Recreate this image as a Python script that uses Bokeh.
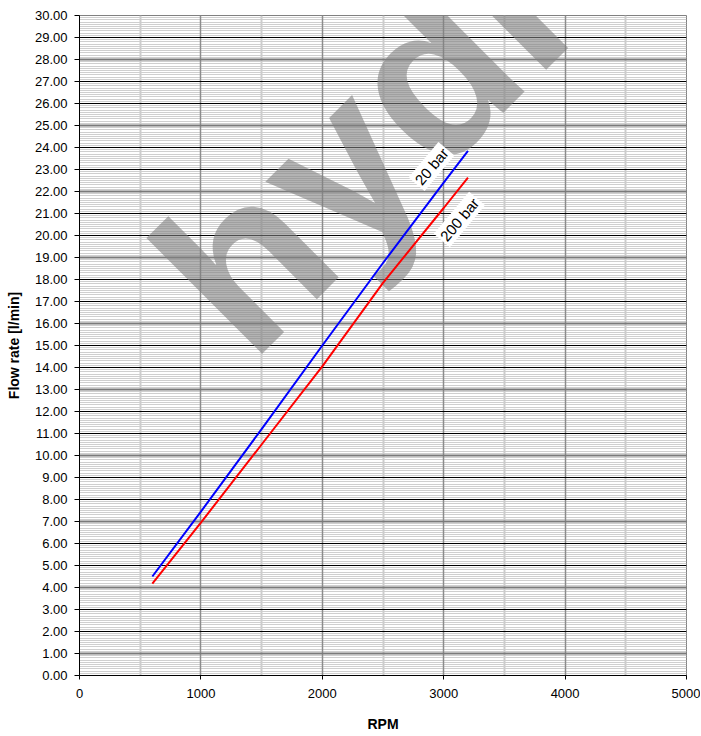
import numpy as np
from bokeh.plotting import figure
from bokeh.models import Grid, FixedTicker, Label, NumeralTickFormatter, Range1d
from bokeh.embed import file_html
from bokeh.resources import INLINE

# ---- data ----
rpm = [600, 1000, 1500, 2000, 2500, 3000, 3200]
flow_20bar = [4.50, 7.45, 11.20, 15.00, 18.75, 22.40, 23.85]
flow_200bar = [4.18, 6.95, 10.50, 14.05, 17.85, 21.25, 22.63]
series_names = ["20 bar", "200 bar"]
x_ticks = [0, 1000, 2000, 3000, 4000, 5000]
y_ticks = list(range(0, 31))
watermark = "hydraulic"

FONT = "Liberation Sans"

p = figure(width=700, height=734, output_backend="svg", toolbar_location=None,
           x_range=Range1d(0, 5000), y_range=Range1d(0, 30),
           min_border_left=79, min_border_right=14, min_border_top=15, min_border_bottom=58)
p.background_fill_color = "white"
p.border_fill_color = "white"
p.outline_line_color = "#808080"
p.outline_line_width = 1

# axes
p.xaxis.ticker = FixedTicker(ticks=x_ticks)
p.yaxis.ticker = FixedTicker(ticks=y_ticks)
p.yaxis.formatter = NumeralTickFormatter(format="0.00")
for ax in (p.xaxis[0], p.yaxis[0]):
    ax.axis_line_color = "black"
    ax.axis_line_width = 1
    ax.major_tick_line_color = "black"
    ax.major_tick_in = 0
    ax.minor_tick_line_color = None
    ax.major_label_text_font = FONT
    ax.major_label_text_font_size = "13px"
    ax.major_label_text_color = "black"
    ax.axis_label_text_font = FONT
    ax.axis_label_text_font_size = "14px"
    ax.axis_label_text_font_style = "bold"
    ax.axis_label_text_color = "black"
p.xaxis.major_tick_out = 4
p.yaxis.major_tick_out = 5
p.xaxis.major_label_standoff = 9
p.yaxis.major_label_standoff = 7
p.xaxis.axis_label = "RPM"
p.yaxis.axis_label = "Flow rate [l/min]"
p.xaxis.axis_label_standoff = 15
p.yaxis.axis_label_standoff = 10

# grids
p.xgrid.visible = False
p.ygrid.visible = False
minor_y = [round(v, 1) for v in np.arange(0.1, 30.0, 0.1) if abs(v - round(v)) > 1e-6]
p.add_layout(Grid(dimension=1, ticker=FixedTicker(ticks=minor_y),
                  grid_line_color="#cfcfcf", grid_line_width=1))
x_half = [500, 1500, 2500, 3500, 4500]
p.add_layout(Grid(dimension=0, ticker=FixedTicker(ticks=x_half),
                  grid_line_color="#cccccc", grid_line_width=2))
p.add_layout(Grid(dimension=0, ticker=FixedTicker(ticks=x_ticks[1:-1]),
                  grid_line_color="#8c8c8c", grid_line_width=1.5))
y_black = [t for t in y_ticks[1:-1] if t % 3 != 1]
y_gray = [t for t in y_ticks[1:-1] if t % 3 == 1]
p.add_layout(Grid(dimension=1, ticker=FixedTicker(ticks=y_black),
                  grid_line_color="black", grid_line_width=1))
p.add_layout(Grid(dimension=1, ticker=FixedTicker(ticks=y_gray),
                  grid_line_color="#7a7a7a", grid_line_width=2))

# watermark
p.add_layout(Label(x=116, y=366, x_units="screen", y_units="screen", text=watermark,
                   angle=45, angle_units="deg", text_font=FONT, text_font_size="226px",
                   text_font_style="bold", text_color="#808080", text_alpha=0.6,
                   text_align="left", text_baseline="alphabetic", level="underlay"))

# lines
p.line(rpm, flow_20bar, line_color="#0000ff", line_width=2)
p.line(rpm, flow_200bar, line_color="#ff0000", line_width=2)

# series labels
for name, (sx, sy) in zip(series_names, [(352, 509), (380, 456)]):
    p.add_layout(Label(x=sx, y=sy, x_units="screen", y_units="screen", text=name,
                       angle=50, angle_units="deg", text_font=FONT, text_font_size="15px",
                       text_color="black", text_align="center", text_baseline="middle",
                       background_fill_color="white", background_fill_alpha=1.0,
                       padding=2))

open("out.html", "w").write(file_html(p, INLINE))
